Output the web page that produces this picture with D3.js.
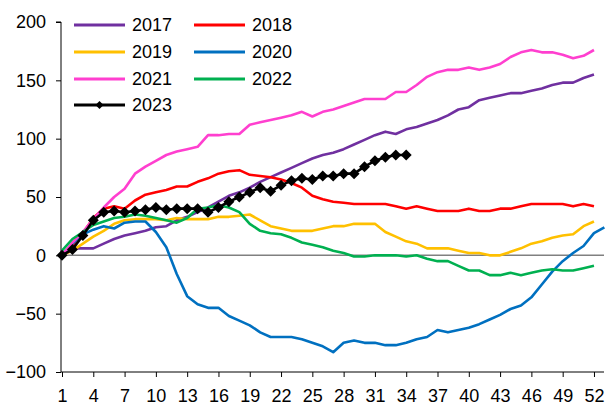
<!DOCTYPE html>
<html><head><meta charset="utf-8">
<script src="https://cdn.jsdelivr.net/npm/d3@7"></script>
<style>
html,body{margin:0;padding:0;background:#fff;}
svg text{font-family:"Liberation Sans Narrow","Liberation Sans",Arial,sans-serif;fill:#000;}
</style></head>
<body><svg id="c" width="605" height="409"></svg>
<script>
const weeks = d3.range(1, 54);
const xTicks = d3.range(1, 53, 3);
const yTicks = [-100, -50, 0, 50, 100, 150, 200];
const seriesNames = ["2017","2018","2019","2020","2021","2022","2023"];
const seriesColors = ["#7030A0","#FF0000","#FFC000","#0070C0","#FF3FCF","#00B050","#000000"];
const s2017 = [0,6,6,6,10,14,17,19,21,24,25,30,33,37,41,46,51,54,58,63,67,71,75,79,83,86,88,91,95,99,103,106,104,108,110,113,116,120,125,127,133,135,137,139,139,141,143,146,148,148,152,155];
const s2018 = [0,8,19,32,40,42,40,47,52,54,56,59,59,63,66,70,72,73,69,68,67,65,62,58,51,48,46,45,44,44,44,44,42,40,42,40,38,38,38,40,38,38,40,40,42,44,44,44,44,42,44,42];
const s2019 = [0,4,10,16,21,27,30,31,31,31,30,32,31,31,31,33,33,34,35,30,25,23,21,21,21,23,25,25,27,27,27,20,16,12,10,6,6,6,4,2,2,0,0,3,6,10,12,15,17,18,25,29];
const s2020 = [0,10,18,22,25,23,28,29,29,20,7,-16,-35,-42,-45,-45,-52,-56,-60,-66,-70,-70,-70,-72,-75,-78,-83,-75,-73,-75,-75,-77,-77,-75,-72,-70,-64,-66,-64,-62,-59,-55,-51,-46,-43,-36,-25,-14,-5,2,8,19,24];
const s2021 = [0,11,20,31,41,50,57,70,76,81,86,89,91,93,103,103,104,104,112,114,116,118,120,123,119,123,125,128,131,134,134,134,140,140,146,153,157,159,159,161,159,161,164,170,174,176,174,174,172,169,171,176];
const s2022 = [4,14,20,26,29,32,33,35,34,32,30,28,32,40,41,43,41,37,27,21,19,18,15,11,9,7,4,2,-1,-1,0,0,0,-1,0,-3,-5,-5,-9,-13,-13,-17,-17,-15,-17,-15,-13,-12,-13,-13,-11,-9];
const s2023 = [0,5,17,30,37,38,37,38,39,41,39,40,40,40,37,41,46,50,54,58,55,60,64,66,65,68,68,70,70,76,81,84,86,86];
const seriesValues = [s2017,s2018,s2019,s2020,s2021,s2022,s2023];

const svg = d3.select("#c");
const x = d3.scaleLinear().domain([1, 53]).range([62, 604.4]);
const y = d3.scaleLinear().domain([-100, 200]).range([372, 22]);

// zero line
svg.append("line").attr("x1", 61).attr("x2", 604).attr("y1", y(0)).attr("y2", y(0))
  .attr("stroke", "#808080").attr("stroke-width", 1.5);

// y axis
const ya = svg.append("g").attr("transform", "translate(61,0)")
  .call(d3.axisLeft(y).tickValues(yTicks).tickSize(5).tickPadding(10));
ya.select(".domain").attr("stroke", "#000").attr("d", `M-5,${y(200)}H0V${y(-100)}`);
ya.selectAll("text").attr("font-size", 18).attr("fill", "#000").style("font-family", null);

// x axis
const xa = svg.append("g").attr("transform", `translate(0,${y(-100)})`)
  .call(d3.axisBottom(x).tickValues(xTicks).tickSize(5).tickPadding(12));
xa.select(".domain").attr("stroke", "#000").attr("d", `M61,0H604`);
xa.selectAll("text").attr("font-size", 18).attr("fill", "#000").style("font-family", null);
svg.selectAll(".tick line").attr("stroke", "#000");
svg.selectAll(".tick text").attr("font-family", null);
d3.selectAll("g").attr("font-family", null);

const line = d3.line().x((d, i) => x(i + 1)).y(d => y(d));
seriesValues.forEach((vals, k) => {
  svg.append("path").datum(vals).attr("d", line).attr("fill", "none")
    .attr("stroke", seriesColors[k]).attr("stroke-width", 2.6).attr("stroke-linejoin", "round");
});
const diamond = r => `M0,${-r}L${r},0L0,${r}L${-r},0Z`;
svg.append("g").selectAll("path").data(s2023).join("path")
  .attr("d", diamond(5.5)).attr("transform", (d, i) => `translate(${x(i + 1)},${y(d)})`)
  .attr("fill", "#000");

// legend
const legPos = [[74,25],[194,25],[74,52],[194,52],[74,79],[194,79],[74,105]];
seriesNames.forEach((n, k) => {
  const [lx, ly] = legPos[k];
  svg.append("line").attr("x1", lx).attr("x2", lx + 51).attr("y1", ly).attr("y2", ly)
    .attr("stroke", seriesColors[k]).attr("stroke-width", 3);
  if (k === 6) svg.append("path").attr("d", diamond(4)).attr("transform", `translate(${lx + 25.5},${ly})`).attr("fill", "#000");
  svg.append("text").attr("x", lx + 58).attr("y", ly).attr("dy", "0.35em").attr("font-size", 18).text(n);
});
</script></body></html>
